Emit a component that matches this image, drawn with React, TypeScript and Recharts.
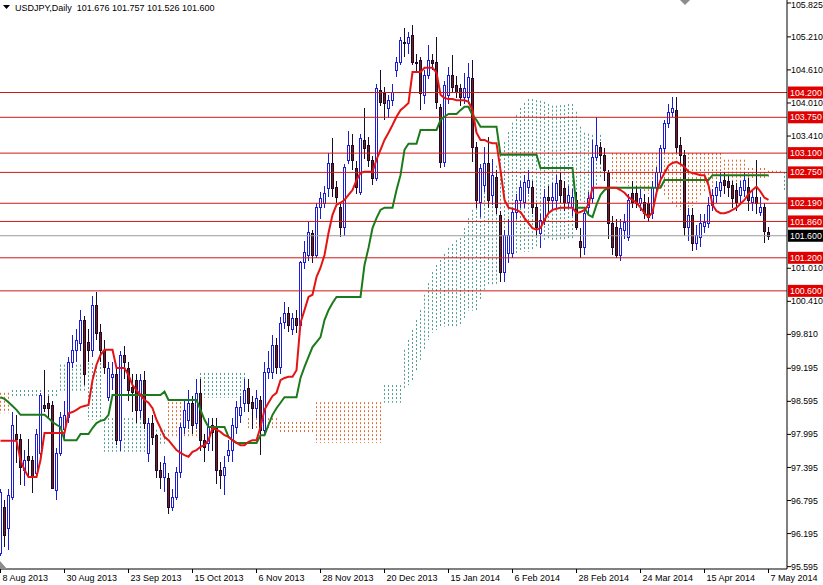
import { ComposedChart, Bar, Line, XAxis, YAxis, ReferenceLine } from "recharts"

if (typeof document !== "undefined") document.body.style.margin = "0"

const FONT = "'Liberation Sans', Arial, sans-serif"

const dateTicks = [0, 16, 32, 48, 64, 80, 96, 112, 128, 144, 160, 176, 192]
const dateLabels = [
  "8 Aug 2013", "30 Aug 2013", "23 Sep 2013", "15 Oct 2013", "6 Nov 2013", "28 Nov 2013", "20 Dec 2013",
  "15 Jan 2014", "6 Feb 2014", "28 Feb 2014", "24 Mar 2014", "15 Apr 2014", "7 May 2014",
]
const priceTicks = [105.825, 105.21, 104.61, 104.01, 103.41, 101.01, 100.41, 99.81, 99.195, 98.595, 97.995, 97.395, 96.795, 96.195, 95.595]
const levels = [104.2, 103.75, 103.1, 102.75, 102.19, 101.86, 101.2, 100.6]
const bid = 101.6

// daily candles, 8 Aug 2013 .. 7 May 2014
const opens = [
  95.85, 96.68, 96.29, 96.86, 98.01, 97.92, 97.35, 97.6, 97.53, 97.29,
  97.66, 98.53, 98.56, 98.53, 96.99, 97.66, 98.1, 98.31, 99.31, 99.53,
  99.65, 100.07, 99.68, 99.53, 100.35, 99.85, 99.53, 98.67, 99.03, 99.1,
  97.89, 99.44, 99.2, 98.85, 98.98, 98.44, 98.98, 97.66, 98.2, 97.98,
  97.35, 97.22, 97.2, 96.68, 96.86, 97.31, 98.13, 98.26, 98.56, 98.2,
  98.75, 97.89, 97.84, 98.17, 98.11, 97.35, 97.26, 97.62, 97.71, 98.13,
  98.35, 98.56, 98.84, 98.58, 98.47, 98.62, 98.08, 99.13, 99.13, 99.62,
  99.22, 100.03, 100.2, 99.9, 100.1, 99.98, 101.12, 101.25, 101.65, 101.25,
  102.12, 102.2, 102.47, 102.92, 102.48, 102.12, 101.76, 102.98, 103.25, 102.83,
  102.4, 103.34, 103.25, 102.98, 102.65, 104.25, 104.2, 103.92, 104.06, 104.61,
  104.75, 105.12, 105.1, 105.25, 104.75, 104.79, 104.16, 104.52, 104.79, 104.75,
  103.94, 102.94, 104.16, 104.52, 104.34, 104.28, 104.12, 104.12, 104.46, 103.21,
  102.21, 102.52, 102.92, 102.34, 102.67, 101.98, 100.94, 101.29, 101.29, 102.03,
  102.25, 102.21, 102.49, 102.49, 102.12, 101.65, 101.89, 102.3, 102.25, 102.25,
  102.61, 102.47, 102.21, 102.12, 102.25, 101.5, 101.4, 102.12, 102.29, 103.03,
  103.21, 103.07, 102.74, 101.83, 101.76, 101.25, 101.7, 101.58, 102.38, 102.38,
  102.2, 102.21, 102.2, 102.01, 102.49, 102.76, 103.19, 103.65, 103.85, 103.88,
  103.25, 103.07, 101.76, 101.98, 101.47, 101.58, 101.78, 101.83, 102.16, 102.34,
  102.43, 102.61, 102.6, 102.52, 102.43, 102.34, 102.43, 102.49, 102.21, 102.3,
  102.03, 102.12, 101.676,
]
const highs = [
  97.0, 96.8, 97.0, 98.4, 98.35, 98.0, 97.71, 97.92, 97.6, 98.1,
  98.74, 99.17, 98.7, 98.6, 97.75, 98.4, 98.6, 99.4, 99.8, 99.9,
  100.25, 100.15, 99.9, 100.5, 100.58, 100.0, 99.7, 99.3, 99.3, 99.2,
  99.5, 99.6, 99.3, 99.1, 99.1, 99.1, 99.15, 98.3, 98.35, 98.0,
  97.5, 97.6, 97.3, 97.0, 97.4, 98.2, 98.6, 98.8, 98.7, 99.0,
  99.0, 98.0, 98.3, 98.3, 98.3, 97.5, 97.6, 97.9, 98.3, 98.6,
  98.7, 99.0, 99.0, 98.7, 98.8, 98.7, 99.3, 99.5, 99.8, 99.75,
  100.13, 100.4, 100.3, 100.2, 100.25, 101.15, 101.5, 101.85, 101.7, 102.2,
  102.4, 102.5, 103.1, 103.37, 102.6, 102.2, 102.9, 103.5, 103.45, 102.95,
  103.45, 103.92, 103.4, 103.05, 104.35, 104.61, 104.3, 104.15, 104.35, 104.85,
  105.2, 105.37, 105.3, 105.43, 104.9, 104.85, 104.6, 105.06, 104.9, 105.21,
  104.0, 104.4, 104.66, 104.88, 104.5, 104.35, 104.56, 104.74, 104.79, 103.3,
  102.9, 103.21, 103.39, 103.0, 102.8, 102.05, 101.7, 101.9, 102.1, 102.35,
  102.6, 102.7, 102.8, 102.6, 102.2, 102.0, 102.45, 102.5, 102.55, 102.7,
  102.75, 102.6, 102.5, 102.45, 102.4, 101.75, 102.1, 102.4, 103.34, 103.76,
  103.3, 103.2, 102.8, 101.95, 101.9, 101.9, 102.0, 102.35, 102.6, 102.5,
  102.45, 102.35, 102.3, 102.6, 102.85, 103.25, 103.7, 104.0, 104.12, 104.12,
  103.4, 103.15, 102.1, 102.1, 101.8, 102.0, 102.0, 102.3, 102.45, 102.6,
  102.75, 102.75, 102.7, 102.6, 102.55, 102.6, 102.75, 102.65, 102.45, 102.98,
  102.3, 102.2, 101.757,
]
const lows = [
  95.78, 95.95, 95.9, 96.8, 97.47, 97.08, 97.05, 97.23, 96.93, 97.26,
  97.6, 98.4, 98.3, 97.0, 96.8, 97.6, 97.9, 98.2, 99.2, 99.3,
  99.5, 98.9, 99.3, 99.4, 99.7, 99.3, 99.1, 98.6, 98.8, 97.8,
  97.7, 99.0, 98.6, 98.4, 98.2, 98.3, 98.1, 97.5, 97.8, 97.2,
  97.0, 96.95, 96.55, 96.6, 96.8, 97.2, 98.0, 98.1, 98.0, 98.1,
  97.7, 97.5, 97.7, 97.7, 97.1, 97.0, 96.9, 97.5, 97.5, 98.0,
  98.2, 98.4, 98.4, 98.1, 98.3, 97.62, 98.0, 99.0, 99.0, 99.1,
  99.1, 99.9, 99.85, 99.8, 99.84, 99.95, 101.0, 101.15, 101.1, 101.2,
  101.9, 102.1, 102.3, 102.3, 102.2, 101.58, 101.6, 102.9, 102.8, 102.35,
  102.34, 103.0, 102.85, 102.52, 102.6, 103.95, 103.7, 103.74, 103.95, 104.48,
  104.7, 104.85, 104.9, 104.7, 104.55, 103.88, 104.0, 104.45, 104.6, 103.9,
  102.83, 102.85, 104.0, 104.2, 104.1, 103.95, 104.0, 104.0, 102.94, 102.1,
  101.94, 102.4, 102.1, 102.15, 102.0, 100.76, 100.76, 101.1, 101.2, 101.9,
  102.1, 102.1, 102.35, 102.0, 101.6, 101.38, 101.8, 102.0, 102.05, 102.1,
  102.2, 102.05, 102.1, 101.95, 101.7, 101.2, 101.25, 102.0, 102.2, 102.95,
  102.9, 102.6, 101.55, 101.25, 101.2, 101.15, 101.55, 101.5, 102.1, 102.1,
  102.05, 101.9, 101.85, 101.9, 102.4, 102.65, 103.1, 103.55, 103.75, 103.1,
  102.9, 101.6, 101.5, 101.32, 101.35, 101.4, 101.65, 101.75, 102.05, 102.2,
  102.3, 102.35, 102.3, 102.1, 102.05, 102.2, 102.3, 102.05, 102.05, 102.0,
  101.95, 101.47, 101.526,
]
const closes = [
  96.95, 96.17, 96.9, 98.17, 97.92, 97.41, 97.53, 97.53, 97.23, 98.01,
  98.71, 98.47, 98.47, 97.02, 97.66, 98.31, 98.34, 99.31, 99.53, 99.71,
  100.07, 99.1, 99.53, 100.35, 99.84, 99.53, 99.22, 99.2, 99.1, 97.89,
  99.44, 99.31, 98.8, 98.76, 98.44, 98.98, 98.2, 98.2, 97.95, 97.35,
  97.22, 97.47, 96.68, 96.86, 97.31, 98.13, 98.44, 98.56, 98.17, 98.75,
  97.89, 97.77, 98.13, 98.04, 97.35, 97.26, 97.4, 97.71, 98.17, 98.49,
  98.49, 98.8, 98.56, 98.47, 98.66, 98.08, 99.13, 99.2, 99.62, 99.22,
  100.02, 100.2, 99.98, 100.1, 99.98, 101.12, 101.3, 101.67, 101.25, 102.12,
  102.29, 102.38, 102.92, 102.47, 102.3, 101.76, 102.85, 103.25, 102.98, 102.48,
  103.37, 103.19, 102.98, 102.65, 104.28, 104.03, 104.01, 104.06, 104.21, 104.75,
  105.15, 105.1, 105.21, 104.75, 104.73, 104.19, 104.52, 104.79, 104.73, 104.03,
  102.94, 104.34, 104.52, 104.3, 104.21, 104.12, 104.28, 104.48, 103.21, 102.25,
  102.83, 102.92, 102.25, 102.7, 102.12, 100.94, 101.61, 101.61, 102.03, 102.25,
  102.49, 102.58, 102.61, 102.12, 101.76, 101.89, 102.3, 102.25, 102.3, 102.56,
  102.34, 102.21, 102.34, 102.3, 101.76, 101.4, 102.01, 102.29, 103.03, 103.25,
  103.07, 102.79, 101.83, 101.4, 101.25, 101.74, 101.85, 102.25, 102.21, 102.2,
  102.29, 102.01, 101.94, 102.49, 102.76, 103.19, 103.65, 103.85, 103.92, 103.21,
  103.07, 101.76, 101.98, 101.47, 101.62, 101.83, 101.85, 102.16, 102.34, 102.49,
  102.58, 102.52, 102.48, 102.29, 102.21, 102.49, 102.61, 102.25, 102.3, 102.2,
  102.12, 101.68, 101.6,
]

// Ichimoku lines
const tenkan = [
  97.88, 97.88, 97.88, 97.88, 97.88, 97.53, 97.35, 97.22, 97.22, 97.22,
  97.53, 98.02, 98.02, 98.02, 98.02, 98.02, 98.02, 98.38, 98.4, 98.44,
  98.49, 98.51, 98.53, 98.98, 99.26, 99.44, 99.53, 99.53, 99.53, 99.2,
  99.2, 99.2, 99.07, 98.89, 98.8, 98.71, 98.62, 98.57, 98.47, 98.26,
  98.11, 97.95, 97.89, 97.8, 97.71, 97.66, 97.62, 97.59, 97.68, 97.71,
  97.77, 97.8, 97.89, 98.11, 98.08, 98.04, 97.98, 97.95, 97.89, 97.84,
  97.8, 97.8, 97.86, 97.89, 97.89, 98.13, 98.44, 98.57, 98.69, 98.75,
  98.98, 99.02, 99.04, 99.04, 99.16, 100.02, 100.25, 100.49, 100.53, 100.85,
  101.02, 101.25, 101.65, 101.98, 102.16, 102.2, 102.25, 102.34, 102.43, 102.61,
  102.74, 102.76, 102.76, 102.76, 102.98, 103.16, 103.34, 103.47, 103.61, 103.76,
  103.88, 103.94, 104.01, 104.57, 104.57, 104.57, 104.65, 104.65, 104.65, 104.56,
  104.16, 104.1, 104.08, 104.08, 104.06, 104.06, 104.06, 104.03, 103.88, 103.47,
  103.34, 103.34, 103.3, 103.28, 103.28, 102.79, 102.25, 102.11, 102.09, 102.07,
  102.03, 101.92, 101.83, 101.74, 101.71, 101.74, 101.89, 102.01, 102.07, 102.09,
  102.11, 102.11, 102.11, 102.11, 102.01, 102.03, 102.07, 102.16, 102.47, 102.47,
  102.47, 102.47, 102.47, 102.47, 102.47, 102.43, 102.38, 102.3, 102.25, 102.2,
  102.11, 102.01, 101.94, 102.03, 102.38, 102.61, 102.74, 102.87, 102.92, 102.94,
  102.9, 102.85, 102.76, 102.74, 102.72, 102.7, 102.7, 102.52, 102.16, 102.05,
  102.01, 102.01, 102.03, 102.07, 102.11, 102.18, 102.25, 102.36, 102.43, 102.49,
  102.4, 102.29, 102.25,
]
const kijun = [
  98.67, 98.64, 98.58, 98.51, 98.44, 98.35, 98.35, 98.35, 98.35, 98.35,
  98.35, 98.35, 98.29, 98.22, 98.17, 98.13, 97.89, 97.89, 97.89, 97.89,
  98.0, 98.0, 98.0, 98.11, 98.2, 98.24, 98.26, 98.35, 98.71, 98.71,
  98.71, 98.71, 98.71, 98.71, 98.71, 98.71, 98.71, 98.71, 98.71, 98.71,
  98.71, 98.77, 98.62, 98.62, 98.62, 98.62, 98.62, 98.62, 98.62, 98.62,
  98.44, 98.26, 98.13, 98.13, 98.13, 98.13, 98.13, 97.95, 97.89, 97.84,
  97.84, 97.84, 97.84, 97.84, 97.84, 97.98, 97.98, 98.17, 98.35, 98.47,
  98.57, 98.67, 98.67, 98.67, 98.67, 99.02, 99.22, 99.4, 99.58, 99.67,
  99.76, 100.07, 100.25, 100.38, 100.49, 100.49, 100.49, 100.49, 100.49, 100.49,
  100.49, 101.07, 101.38, 101.74, 101.92, 102.07, 102.11, 102.11, 102.11, 102.43,
  102.7, 103.16, 103.27, 103.27, 103.27, 103.52, 103.52, 103.52, 103.52, 103.52,
  103.7, 103.76, 103.81, 103.81, 103.81, 103.88, 103.94, 103.94, 103.79, 103.7,
  103.58, 103.58, 103.58, 103.58, 103.58, 103.07, 103.07, 103.07, 103.07, 103.07,
  103.07, 103.07, 103.07, 103.07, 103.07, 102.83, 102.83, 102.83, 102.83, 102.83,
  102.83, 102.83, 102.83, 102.83, 102.11, 102.11, 102.11, 101.98, 101.94, 102.16,
  102.34, 102.43, 102.47, 102.47, 102.47, 102.47, 102.47, 102.47, 102.47, 102.47,
  102.47, 102.47, 102.47, 102.47, 102.47, 102.47, 102.61, 102.61, 102.61, 102.61,
  102.61, 102.61, 102.61, 102.61, 102.61, 102.61, 102.61, 102.61, 102.7, 102.7,
  102.7, 102.7, 102.7, 102.7, 102.7, 102.7, 102.7, 102.7, 102.7, 102.7,
  102.7, 102.7, 102.7,
]

// cloud (runs 4 bars past the last candle)
const kumoHigh = [
  98.75, 98.75, 98.75, 98.8, 98.8, 98.8, 98.8, 98.8, 98.8, 98.8,
  98.8, 98.8, 98.8, 98.8, 98.8, 99.26, 99.26, 99.26, 99.26, 99.26,
  99.26, 99.26, 99.29, 99.29, 99.29, 99.29, 98.29, 98.29, 98.29, 98.29,
  98.29, 98.29, 98.29, 98.29, 98.29, 98.29, 98.29, 98.08, 98.08, 98.08,
  98.08, 98.08, 98.58, 98.58, 98.58, 98.58, 98.58, 98.58, 98.58, 98.58,
  99.11, 99.11, 99.11, 99.11, 99.11, 99.11, 99.11, 99.11, 99.11, 99.11,
  99.11, 99.11, 98.29, 98.29, 98.29, 98.29, 98.29, 98.29, 98.29, 98.29,
  98.22, 98.22, 98.22, 98.22, 98.22, 98.22, 98.22, 98.22, 98.22, 98.58,
  98.58, 98.58, 98.58, 98.58, 98.58, 98.58, 98.58, 98.58, 98.58, 98.58,
  98.58, 98.58, 98.58, 98.58, 98.58, 98.58, 98.89, 98.89, 98.89, 98.89,
  98.89, 99.53, 99.71, 99.89, 100.07, 100.25, 100.53, 100.74, 100.94, 101.07,
  101.16, 101.27, 101.38, 101.45, 101.52, 101.56, 101.74, 101.92, 102.07, 102.25,
  102.45, 102.61, 102.72, 102.79, 102.87, 103.07, 103.3, 103.48, 103.65, 103.79,
  103.92, 104.01, 104.08, 104.08, 104.06, 104.05, 104.03, 103.99, 103.96, 103.96,
  103.97, 103.97, 103.99, 103.99, 103.85, 103.58, 103.47, 103.45, 103.43, 103.43,
  103.43, 102.94, 102.7, 103.1, 103.1, 103.1, 103.1, 103.1, 103.1, 103.1,
  103.1, 103.1, 103.1, 103.1, 103.1, 103.1, 103.1, 103.1, 103.1, 103.1,
  103.1, 103.1, 103.1, 103.1, 103.1, 103.1, 103.1, 103.1, 103.1, 103.1,
  103.1, 102.98, 102.98, 102.98, 102.98, 102.98, 102.98, 102.83, 102.83, 102.83,
  102.83, 102.83, 102.78, 102.78, 102.78, 102.78, 102.76,
]
const kumoLow = [
  98.38, 98.38, 98.38, 98.69, 98.69, 98.69, 98.69, 98.69, 98.69, 98.69,
  98.69, 98.69, 98.69, 98.69, 98.69, 98.75, 98.75, 98.75, 98.75, 98.75,
  98.75, 98.75, 98.26, 98.26, 98.26, 98.26, 97.68, 97.68, 97.68, 97.68,
  97.68, 97.68, 97.68, 97.68, 97.68, 97.68, 97.68, 97.8, 97.8, 97.8,
  97.8, 97.8, 97.95, 97.95, 97.95, 97.95, 97.95, 97.95, 97.95, 97.95,
  98.66, 98.66, 98.66, 98.66, 98.66, 98.66, 98.66, 98.66, 98.66, 98.66,
  98.66, 98.66, 98.11, 98.11, 98.11, 98.11, 98.11, 98.11, 98.11, 98.11,
  98.02, 98.02, 98.02, 98.02, 98.02, 98.02, 98.02, 98.02, 98.02, 97.84,
  97.84, 97.84, 97.84, 97.84, 97.84, 97.84, 97.84, 97.84, 97.84, 97.84,
  97.84, 97.84, 97.84, 97.84, 97.84, 97.84, 98.57, 98.57, 98.57, 98.57,
  98.57, 98.84, 98.89, 98.98, 99.13, 99.35, 99.53, 99.71, 99.84, 99.89,
  99.93, 99.95, 99.96, 99.96, 99.96, 99.96, 100.11, 100.24, 100.24, 100.24,
  100.43, 100.62, 100.71, 100.71, 100.71, 100.98, 101.16, 101.23, 101.27, 101.29,
  101.31, 101.31, 101.31, 101.34, 101.4, 101.47, 101.49, 101.52, 101.52, 101.52,
  101.52, 101.52, 101.52, 101.52, 101.69, 102.21, 102.21, 102.25, 102.27, 102.43,
  102.67, 102.67, 102.65, 102.59, 102.57, 102.57, 102.54, 102.5, 102.47, 102.43,
  102.4, 102.38, 102.36, 102.41, 102.43, 102.47, 102.34, 102.25, 102.16, 102.11,
  102.07, 102.07, 102.09, 102.14, 102.21, 102.32, 102.41, 102.45, 102.47, 102.47,
  102.47, 102.47, 102.47, 102.47, 102.5, 102.54, 102.57, 102.59, 102.61, 102.63,
  102.65, 102.65, 102.67, 102.74, 102.76, 102.76, 102.43,
]
// 1 = span A above span B (teal), 0 = orange
const kumoBull = [
  0, 0, 0, 1, 1, 1, 1, 1, 1, 1,
  1, 1, 1, 1, 1, 1, 1, 1, 1, 1,
  1, 1, 1, 1, 1, 1, 1, 1, 1, 1,
  1, 1, 1, 1, 1, 1, 1, 1, 1, 1,
  1, 1, 0, 0, 0, 0, 0, 0, 0, 0,
  1, 1, 1, 1, 1, 1, 1, 1, 1, 1,
  1, 1, 0, 0, 0, 0, 0, 0, 0, 0,
  0, 0, 0, 0, 0, 0, 0, 0, 0, 0,
  0, 0, 0, 0, 0, 0, 0, 0, 0, 0,
  0, 0, 0, 0, 0, 0, 1, 1, 1, 1,
  1, 1, 1, 1, 1, 1, 1, 1, 1, 1,
  1, 1, 1, 1, 1, 1, 1, 1, 1, 1,
  1, 1, 1, 1, 1, 1, 1, 1, 1, 1,
  1, 1, 1, 1, 1, 1, 1, 1, 1, 1,
  1, 1, 1, 1, 1, 1, 1, 1, 1, 1,
  1, 1, 1, 0, 0, 0, 0, 0, 0, 0,
  0, 0, 0, 0, 0, 0, 0, 0, 0, 0,
  0, 0, 0, 0, 0, 0, 0, 0, 0, 0,
  0, 0, 0, 0, 0, 0, 0, 0, 0, 0,
  0, 0, 0, 0, 0, 0, 1,
]

const rows = kumoHigh.map((kh, i) => ({
  i,
  o: opens[i],
  h: highs[i],
  l: lows[i],
  c: closes[i],
  tenkan: tenkan[i],
  kijun: kijun[i],
  kh,
  kl: kumoLow[i],
  kb: kumoBull[i],
}))

const BULL = "#1c1cd2"
const BEAR_FILL = "#7e1a1a"
const BEAR_EDGE = "#180c28"
const TEAL = "#4f9e8f"
const ORANGE = "#dc6e34"
const LEVEL = "#d01818"

const snap = (v: number) => Math.round(v) + 0.5
const centerOf = (x: number, w: number) => Math.floor(x + w / 2 + 0.25) + 0.5

const Candle = (props: any) => {
  const { x, y, width, height, payload } = props
  if (payload == null || payload.o == null) return null
  const top = Math.min(y, y + height)
  const bot = Math.max(y, y + height)
  const { o, h, l, c } = payload
  const span = h - l || 1
  const py = (v: number) => top + ((h - v) / span) * (bot - top)
  const cx = centerOf(x, width)
  const up = c >= o
  const bt = snap(py(Math.max(o, c)))
  const bb = Math.max(snap(py(Math.min(o, c))), bt + 1)
  return (
    <g>
      <line x1={cx} x2={cx} y1={Math.round(top)} y2={Math.round(bot)} stroke={up ? BULL : BEAR_EDGE} strokeWidth={1} />
      <rect x={cx - 1} y={bt} width={2} height={bb - bt} fill={up ? "#ffffff" : BEAR_FILL} stroke={up ? BULL : BEAR_EDGE} strokeWidth={1} />
    </g>
  )
}

const KumoStroke = (props: any) => {
  const { x, y, width, height, payload } = props
  if (payload == null || payload.kh == null) return null
  const top = Math.min(y, y + height)
  const bot = Math.max(y, y + height)
  const cx = centerOf(x, width)
  return (
    <line x1={cx} x2={cx} y1={top} y2={bot} stroke={payload.kb ? TEAL : ORANGE} strokeWidth={1} strokeDasharray="2 2" />
  )
}

const DateTick = (props: any) => {
  const { x, y, payload } = props
  const k = dateTicks.indexOf(payload.value)
  return (
    <text x={x + 2} y={y} dy="0.71em" fontSize={9} fontFamily={FONT} fill="#000" textAnchor="start">
      {dateLabels[k]}
    </text>
  )
}

const PriceTick = (props: any) => {
  const { x, y, payload } = props
  return (
    <text x={x} y={Math.max(y, 4.5)} dy="0.35em" fontSize={8.8} fontFamily={FONT} fill="#000" textAnchor="start">
      {payload.value.toFixed(3)}
    </text>
  )
}

const PriceBox = (fill: string, value: number) => (props: any) => {
  const vb = props.viewBox || {}
  const bx = vb.x + vb.width + 1
  return (
    <g>
      <rect x={bx} y={vb.y - 6} width={40} height={12} fill={fill} />
      <text x={bx + 2} y={vb.y} dy="0.35em" fontSize={8.8} fontFamily={FONT} fill="#ffffff">
        {value.toFixed(3)}
      </text>
    </g>
  )
}

const xDomain = [-0.125, 196.625]

export default function App() {
  return (
    <div style={{ position: "relative", width: 823, height: 585, background: "#fff", overflow: "hidden" }}>
      <ComposedChart width={823} height={585} data={rows} margin={{ top: 0, right: 0, bottom: 0, left: 0 }}>
        <XAxis
          dataKey="i"
          type="number"
          domain={xDomain}
          allowDataOverflow
          ticks={dateTicks}
          interval={0}
          height={16}
          tickSize={4}
          axisLine={{ stroke: "#000" }}
          tickLine={{ stroke: "#000" }}
          tick={<DateTick />}
        />
        <XAxis xAxisId="k" dataKey="i" type="number" domain={xDomain} allowDataOverflow hide />
        <YAxis
          orientation="right"
          type="number"
          domain={[95.552, 105.879]}
          allowDataOverflow
          ticks={priceTicks}
          interval={0}
          width={36}
          tickSize={4}
          tickMargin={0}
          tick={<PriceTick />}
          axisLine={{ stroke: "#000" }}
          tickLine={{ stroke: "#000" }}
        />
        <Bar
          xAxisId="k"
          dataKey={(d: any) => (d.kh == null ? null : [d.kl, d.kh])}
          barSize={3}
          shape={<KumoStroke />}
          isAnimationActive={false}
        />
        <ReferenceLine y={bid} stroke="#9a9a9a" strokeWidth={1} label={PriceBox("#000000", bid)} />
        {levels.map((v) => (
          <ReferenceLine key={v} y={v} stroke={LEVEL} strokeWidth={1} label={PriceBox("#e00000", v)} />
        ))}
        <Bar
          dataKey={(d: any) => (d.o == null ? null : [d.l, d.h])}
          barSize={3}
          shape={<Candle />}
          isAnimationActive={false}
        />
        <Line dataKey="kijun" type="linear" stroke="#1b7a1b" strokeWidth={2} dot={false} activeDot={false} legendType="none" isAnimationActive={false} />
        <Line dataKey="tenkan" type="linear" stroke="#e41414" strokeWidth={2} dot={false} activeDot={false} legendType="none" isAnimationActive={false} />
      </ComposedChart>
      <svg width={823} height={585} style={{ position: "absolute", left: 0, top: 0, pointerEvents: "none" }}>
        <polygon points="3,5 10,5 6.5,9" fill="#000" />
        <text x={15} y={11} fontSize={9} fontFamily={FONT} fill="#000" style={{ whiteSpace: "pre" }}>
          {"USDJPY,Daily  101.676 101.757 101.526 101.600"}
        </text>
        <polygon points="680,0 690,0 685,5" fill="#8c8c8c" />
        <polygon points="0,561 0,569 7,569" fill="#8c8c8c" />
      </svg>
    </div>
  )
}
